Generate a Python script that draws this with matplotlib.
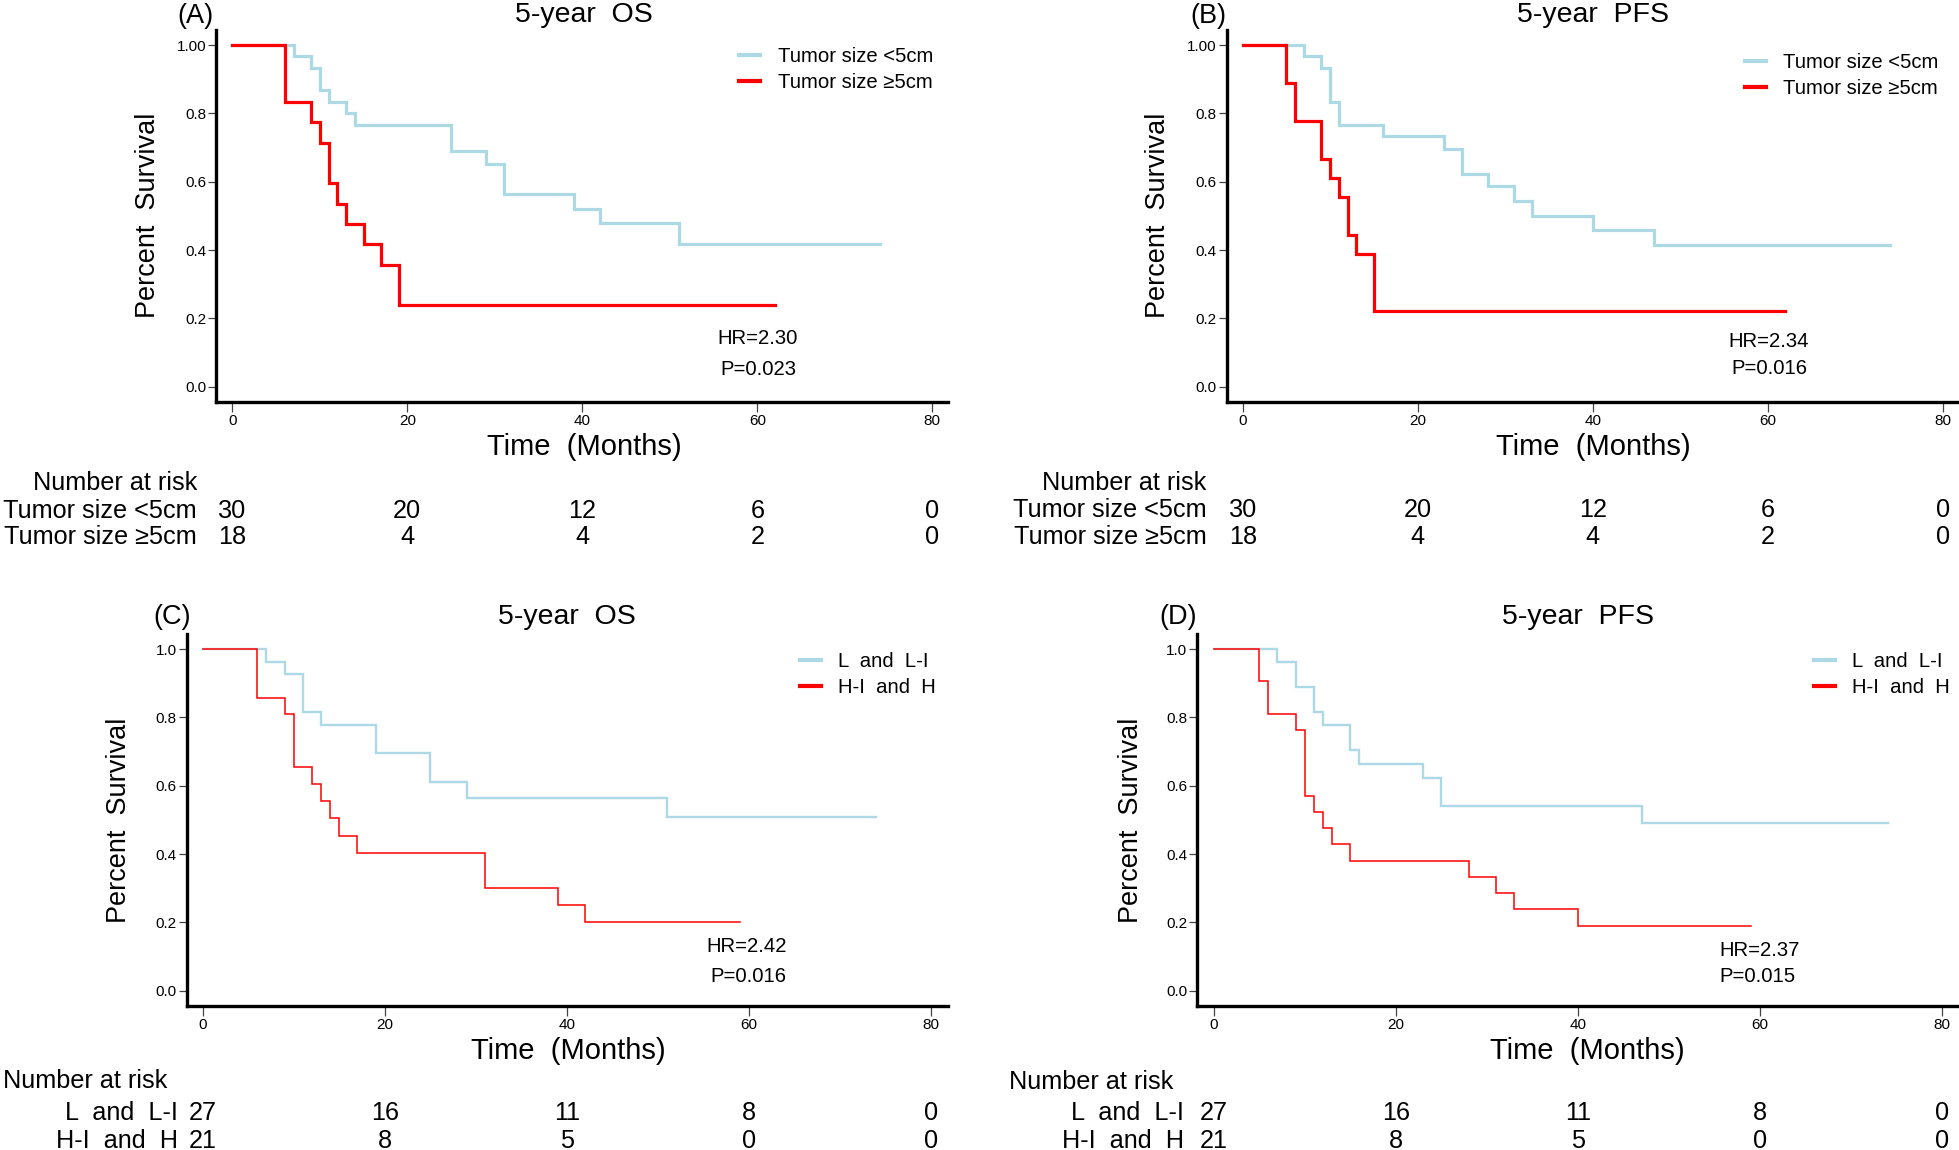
import matplotlib
matplotlib.use("Agg")
import matplotlib.pyplot as plt
import matplotlib.transforms as mtransforms

plt.rcParams['font.family'] = ['Liberation Sans', 'DejaVu Sans']

# ---------------- data ----------------
A_blue_t = [0, 7, 9, 10, 11, 13, 14, 25, 29, 31, 39, 42, 51, 74]
A_blue_s = [1.0, 0.967, 0.933, 0.867, 0.833, 0.800, 0.767, 0.690, 0.652, 0.565, 0.521, 0.478, 0.418, 0.418]
A_red_t = [0, 6, 9, 10, 11, 12, 13, 15, 17, 19, 62]
A_red_s = [1.0, 0.833, 0.774, 0.714, 0.595, 0.536, 0.476, 0.417, 0.357, 0.238, 0.238]

B_blue_t = [0, 7, 9, 10, 11, 16, 23, 25, 28, 31, 33, 40, 47, 74]
B_blue_s = [1.0, 0.967, 0.933, 0.833, 0.767, 0.733, 0.695, 0.622, 0.586, 0.543, 0.500, 0.460, 0.415, 0.415]
B_red_t = [0, 5, 6, 9, 10, 11, 12, 13, 15, 62]
B_red_s = [1.0, 0.889, 0.778, 0.667, 0.611, 0.556, 0.444, 0.389, 0.222, 0.222]

C_blue_t = [0, 7, 9, 11, 13, 19, 25, 29, 51, 74]
C_blue_s = [1.0, 0.963, 0.926, 0.815, 0.778, 0.697, 0.610, 0.565, 0.508, 0.508]
C_red_t = [0, 6, 9, 10, 12, 13, 14, 15, 17, 31, 39, 42, 59]
C_red_s = [1.0, 0.857, 0.810, 0.655, 0.605, 0.554, 0.504, 0.454, 0.403, 0.302, 0.252, 0.202, 0.202]

D_blue_t = [0, 7, 9, 11, 12, 15, 16, 23, 25, 47, 74]
D_blue_s = [1.0, 0.963, 0.889, 0.815, 0.778, 0.704, 0.664, 0.622, 0.540, 0.491, 0.491]
D_red_t = [0, 5, 6, 9, 10, 11, 12, 13, 15, 28, 31, 33, 40, 59]
D_red_s = [1.0, 0.905, 0.810, 0.762, 0.571, 0.524, 0.476, 0.429, 0.381, 0.333, 0.286, 0.238, 0.190, 0.190]

risk_times = [0, 20, 40, 60, 80]
size_labels = ["Tumor size <5cm", "Tumor size \u22655cm"]
size_risk_small = [30, 20, 12, 6, 0]
size_risk_large = [18, 4, 4, 2, 0]
grade_labels = ["L  and  L-I", "H-I  and  H"]
grade_risk_low = [27, 16, 11, 8, 0]
grade_risk_high = [21, 8, 5, 0, 0]

x_ticks = [0, 20, 40, 60, 80]
y_ticks = [0.0, 0.2, 0.4, 0.6, 0.8, 1.0]
y_labels_ab = ["0.0", "0.2", "0.4", "0.6", "0.8", "1.00"]
y_labels_cd = ["0.0", "0.2", "0.4", "0.6", "0.8", "1.0"]

BLUE = "#ADD8E6"
RED = "#FF0000"

W, H = 1959, 1150
fig = plt.figure(figsize=(W / 100, H / 100), dpi=100)

TABLE_FS = 18.2


def fx(x):
    return x / W


def fy(y):
    return 1 - y / H


def make_axes(left, right, top, bottom, xlim):
    ax = fig.add_axes([fx(left), fy(bottom), (right - left) / W, (bottom - top) / H])
    ax.set_xlim(*xlim)
    ax.set_ylim(-0.0439, 1.0439)
    for s in ("top", "right"):
        ax.spines[s].set_visible(False)
    for s in ("left", "bottom"):
        ax.spines[s].set_linewidth(2.4)
        ax.spines[s].set_color("black")
    ax.set_xticks(x_ticks)
    ax.set_xticklabels([str(v) for v in x_ticks], fontsize=11)
    ax.set_yticks(y_ticks)
    ax.tick_params(axis="y", direction="out", length=6, width=0.9, color="#444444", pad=1)
    ax.tick_params(axis="x", direction="out", length=7, width=0.9, color="#444444", pad=2)
    return ax


panels = [
    dict(name="(A)", title="5-year  OS", box=(216, 948, 30, 401.7), xlim=(-1.863, 81.79),
         curves=((A_blue_t, A_blue_s), (A_red_t, A_red_s)), lw=(2.3, 2.3),
         ylab=y_labels_ab, leg=(size_labels, 739, 47.5), hr=("HR=2.30", "P=0.023"),
         hrpos=((758, 339), (758, 370)), hr_ha="center",
         lab=(195, 16), ttl=(584, 15), yl=(148, 215), xl=(584.5, 447),
         risk=(size_labels, size_risk_small, size_risk_large), nar=(197, 483, "right"),
         rowx=197, rowy=(511, 537)),
    dict(name="(B)", title="5-year  PFS", box=(1226.7, 1957, 30, 401.7), xlim=(-1.828, 81.6),
         curves=((B_blue_t, B_blue_s), (B_red_t, B_red_s)), lw=(2.3, 2.3),
         ylab=y_labels_ab, leg=(size_labels, 1744.7, 53.5), hr=("HR=2.34", "P=0.016"),
         hrpos=((1769, 342), (1769, 369)), hr_ha="center",
         lab=(1208, 16), ttl=(1593, 15), yl=(1158, 215), xl=(1593, 447),
         risk=(size_labels, size_risk_small, size_risk_large), nar=(1206.7, 483, "right"),
         rowx=1206.7, rowy=(510, 537)),
    dict(name="(C)", title="5-year  OS", box=(186.7, 948, 634, 1005.7), xlim=(-1.758, 81.9),
         curves=((C_blue_t, C_blue_s), (C_red_t, C_red_s)), lw=(1.7, 1.1),
         ylab=y_labels_cd, leg=(grade_labels, 799.6, 652), hr=("HR=2.42", "P=0.016"),
         hrpos=((747, 947), (748, 977)), hr_ha="center",
         lab=(172, 617), ttl=(567, 617), yl=(118.5, 820), xl=(568, 1051),
         risk=(grade_labels, grade_risk_low, grade_risk_high), nar=(3, 1081, "left"),
         rowx=177.5, rowy=(1113, 1141)),
    dict(name="(D)", title="5-year  PFS", box=(1197, 1957, 634, 1005.7), xlim=(-1.812, 81.61),
         curves=((D_blue_t, D_blue_s), (D_red_t, D_red_s)), lw=(1.7, 1.1),
         ylab=y_labels_cd, leg=(grade_labels, 1813.6, 652), hr=("HR=2.37", "P=0.015"),
         hrpos=((1719.6, 951), (1719.6, 976)), hr_ha="left",
         lab=(1178, 617), ttl=(1577.5, 617), yl=(1131, 820), xl=(1587, 1051),
         risk=(grade_labels, grade_risk_low, grade_risk_high), nar=(1009, 1082, "left"),
         rowx=1183.5, rowy=(1113, 1141)),
]

for p in panels:
    l, r, t, b = p["box"]
    ax = make_axes(l, r, t, b, p["xlim"])
    ax.set_yticklabels(p["ylab"], fontsize=11)
    (bt, bs), (rt, rs) = p["curves"]
    labels = p["leg"][0]
    h1, = ax.step(bt, bs, where="post", color=BLUE, lw=p["lw"][0], label=labels[0],
                  solid_joinstyle="miter", zorder=3)
    h2, = ax.step(rt, rs, where="post", color=RED, lw=p["lw"][1], label=labels[1],
                  solid_joinstyle="miter", zorder=4)
    leg = ax.legend(handles=[h1, h2], loc="upper left",
                    bbox_to_anchor=(fx(p["leg"][1]), fy(p["leg"][2])),
                    bbox_transform=fig.transFigure, frameon=False, fontsize=14.6,
                    borderpad=0, borderaxespad=0, handlelength=1.05,
                    handletextpad=0.85, labelspacing=0.33)
    for line in leg.get_lines():
        line.set_linewidth(3.0)

    fig.text(fx(p["lab"][0]), fy(p["lab"][1]), p["name"], fontsize=19.5, ha="center", va="center")
    fig.text(fx(p["ttl"][0]), fy(p["ttl"][1]), p["title"], fontsize=20.5, ha="center", va="center")
    fig.text(fx(p["yl"][0]), fy(p["yl"][1]), "Percent  Survival", fontsize=19.5,
             rotation=90, ha="center", va="center")
    fig.text(fx(p["xl"][0]), fy(p["xl"][1]), "Time  (Months)", fontsize=21,
             ha="center", va="center")
    for txt, (x, y) in zip(p["hr"], p["hrpos"]):
        fig.text(fx(x), fy(y), txt, fontsize=14.6, ha=p["hr_ha"], va="center")

    # number at risk table
    trans = mtransforms.blended_transform_factory(ax.transData, fig.transFigure)
    nx, ny, nha = p["nar"]
    fig.text(fx(nx), fy(ny), "Number at risk", fontsize=TABLE_FS, ha=nha, va="center")
    rlabels, row1, row2 = p["risk"]
    for lbl, row, yy in zip(rlabels, (row1, row2), p["rowy"]):
        fig.text(fx(p["rowx"]), fy(yy), lbl, fontsize=TABLE_FS, ha="right", va="center")
        for tt, v in zip(risk_times, row):
            ax.text(tt, fy(yy), str(v), transform=trans, fontsize=TABLE_FS,
                    ha="center", va="center", clip_on=False)

fig.savefig("out.png", dpi=100)
